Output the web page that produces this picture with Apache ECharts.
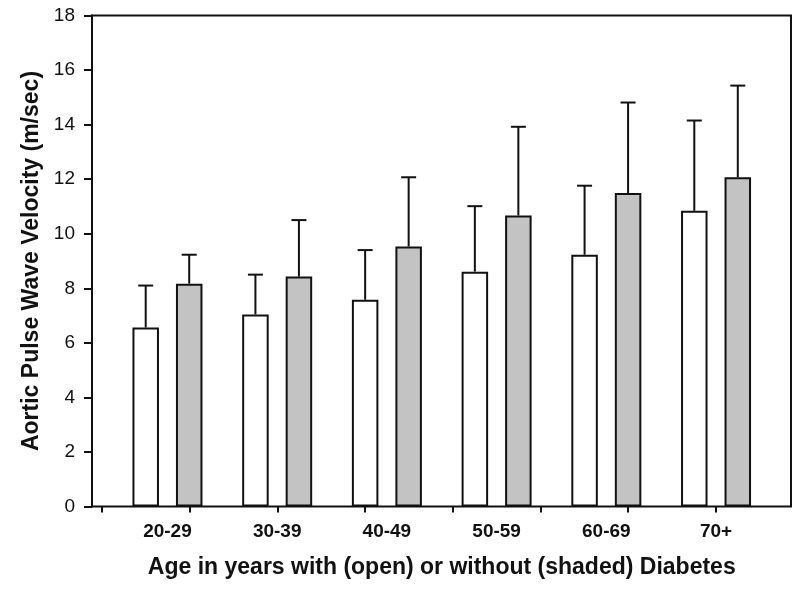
<!DOCTYPE html>
<html>
<head>
<meta charset="utf-8">
<script src="https://cdn.jsdelivr.net/npm/echarts@6/dist/echarts.min.js"></script>
<style>
html, body { margin: 0; padding: 0; background: #fff; }
#chart { width: 800px; height: 591px; }
</style>
</head>
<body>
<div id="chart"></div>
<script>
// ---- data ----
const categories = ['20-29', '30-39', '40-49', '50-59', '60-69', '70+'];
const withDiabetes = [6.56, 7.04, 7.58, 8.61, 9.23, 10.84];      // open bars
const withDiabetesErr = [1.54, 1.46, 1.82, 2.40, 2.53, 3.31];
const withoutDiabetes = [8.17, 8.43, 9.53, 10.67, 11.49, 12.07]; // shaded bars
const withoutDiabetesErr = [1.06, 2.07, 2.54, 3.25, 3.32, 3.36];
const yTicks = [0, 2, 4, 6, 8, 10, 12, 14, 16, 18];
const xTickMarks = [0, 1, 2, 3, 4, 5, 6, 7];

const FONT = 'Liberation Sans, Arial, Helvetica, sans-serif';
const BAR_W = 26.5;
const GAP_PX = 17;
const OFFSET = (BAR_W + GAP_PX) / 2;
const CAP_HALF = 7.5;

function errData(means, errs, sign) {
  return means.map((m, i) => [i, m, m + errs[i], sign]);
}

function renderErr(params, api) {
  const base = api.coord([api.value(0), api.value(1)]);
  const top = api.coord([api.value(0), api.value(2)]);
  const x = base[0] + api.value(3) * OFFSET;
  const style = { stroke: '#111', lineWidth: 2, fill: null };
  return {
    type: 'group',
    children: [
      { type: 'line', shape: { x1: x, y1: base[1], x2: x, y2: top[1] }, style: style },
      { type: 'line', shape: { x1: x - CAP_HALF, y1: top[1], x2: x + CAP_HALF, y2: top[1] }, style: style }
    ]
  };
}

const chart = echarts.init(document.getElementById('chart'), null, { renderer: 'canvas' });

const option = {
  animation: false,
  backgroundColor: '#fff',
  textStyle: { fontFamily: FONT },
  grid: [
    { left: 92, top: 15.5, width: 699, height: 491, show: true, borderColor: '#111', borderWidth: 2, backgroundColor: 'transparent', containLabel: false },
    { left: 112.6, top: 15.5, width: 658.3, height: 491, containLabel: false },
    { left: 102, top: 15.5, width: 613.9, height: 491, containLabel: false }
  ],
  xAxis: [
    { gridIndex: 0, type: 'value', min: 0, max: 1, show: false },
    {
      gridIndex: 1, type: 'category', data: categories,
      axisLine: { show: false }, axisTick: { show: false },
      axisLabel: { color: '#111', fontSize: 19, fontWeight: 'bold', fontFamily: FONT, margin: 16 },
      name: 'Age in years with (open) or without (shaded) Diabetes',
      nameLocation: 'middle', nameGap: 50,
      nameTextStyle: { color: '#111', fontSize: 23, fontWeight: 'bold', fontFamily: FONT }
    },
    {
      gridIndex: 2, type: 'value', min: xTickMarks[0], max: xTickMarks[xTickMarks.length - 1], interval: 1,
      axisLine: { show: false },
      axisTick: { show: true, inside: false, length: 6, lineStyle: { color: '#111', width: 2 } },
      axisLabel: { show: false }, splitLine: { show: false }
    }
  ],
  yAxis: [
    {
      gridIndex: 0, type: 'value', min: yTicks[0], max: yTicks[yTicks.length - 1], interval: 2,
      axisLine: { show: true, lineStyle: { color: '#111', width: 2 } },
      axisTick: { show: true, inside: false, length: 8, lineStyle: { color: '#111', width: 2 } },
      axisLabel: { color: '#111', fontSize: 19, fontFamily: FONT, margin: 17 },
      splitLine: { show: false },
      name: 'Aortic Pulse Wave Velocity (m/sec)',
      nameLocation: 'middle', nameGap: 45, nameRotate: 90,
      nameTextStyle: { color: '#111', fontSize: 23, fontWeight: 'bold', fontFamily: FONT }
    },
    { gridIndex: 1, type: 'value', min: yTicks[0], max: yTicks[yTicks.length - 1], show: false },
    { gridIndex: 2, type: 'value', min: 0, max: 1, show: false }
  ],
  series: [
    {
      name: 'With diabetes', type: 'bar', xAxisIndex: 1, yAxisIndex: 1,
      data: withDiabetes, barWidth: BAR_W, barGap: (GAP_PX / BAR_W * 100) + '%',
      itemStyle: { color: '#ffffff', borderColor: '#111', borderWidth: 2 }, z: 3
    },
    {
      name: 'Without diabetes', type: 'bar', xAxisIndex: 1, yAxisIndex: 1,
      data: withoutDiabetes, barWidth: BAR_W, barGap: (GAP_PX / BAR_W * 100) + '%',
      itemStyle: { color: '#c3c3c3', borderColor: '#111', borderWidth: 2 }, z: 3
    },
    {
      type: 'custom', xAxisIndex: 1, yAxisIndex: 1, renderItem: renderErr,
      data: errData(withDiabetes, withDiabetesErr, -1), z: 4, silent: true
    },
    {
      type: 'custom', xAxisIndex: 1, yAxisIndex: 1, renderItem: renderErr,
      data: errData(withoutDiabetes, withoutDiabetesErr, 1), z: 4, silent: true
    }
  ]
};
chart.setOption(option);
</script>
</body>
</html>
